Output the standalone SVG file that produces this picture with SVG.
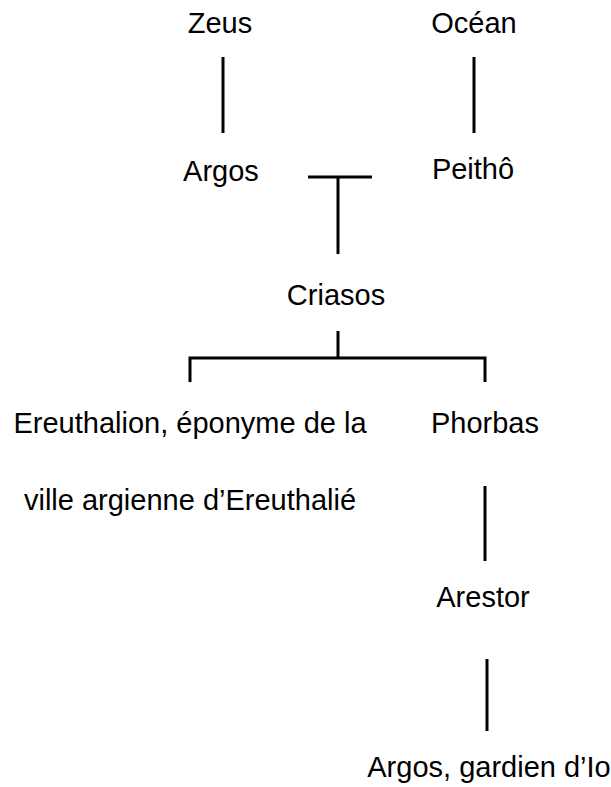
<svg xmlns="http://www.w3.org/2000/svg" width="611" height="787" viewBox="0 0 611 787">
<style>
text{font-family:"Liberation Sans",Arial,sans-serif;font-size:29px;fill:#000;text-anchor:middle}
.c line{stroke:#000;stroke-width:3;fill:none}
</style>
<rect width="611" height="787" fill="#fff"/>
<g id="zeus"><text x="220" y="33">Zeus</text></g>
<g id="ocean"><text x="474" y="33">Océan</text></g>
<g id="argos"><text x="221" y="181">Argos</text></g>
<g id="peitho"><text x="473" y="179">Peithô</text></g>
<g id="criasos"><text x="336" y="305">Criasos</text></g>
<g id="ereuthalion"><text x="190" y="433">Ereuthalion, éponyme de la</text><text x="190" y="510">ville argienne d’Ereuthalié</text></g>
<g id="phorbas"><text x="485" y="433">Phorbas</text></g>
<g id="arestor"><text x="483" y="607">Arestor</text></g>
<g id="argos-io"><text x="489" y="777">Argos, gardien d’Io</text></g>
<g class="c" id="connectors">
<line x1="223" y1="57" x2="223" y2="133"/>
<line x1="474" y1="57" x2="474" y2="133"/>
<line x1="308" y1="177" x2="372" y2="177"/>
<line x1="338" y1="177" x2="338" y2="254"/>
<line x1="338" y1="331" x2="338" y2="358"/>
<polyline points="190,382 190,358 485,358 485,382" style="stroke:#000;stroke-width:3;fill:none"/>
<line x1="485" y1="486" x2="485" y2="561"/>
<line x1="487" y1="659" x2="487" y2="731"/>
</g>
</svg>
